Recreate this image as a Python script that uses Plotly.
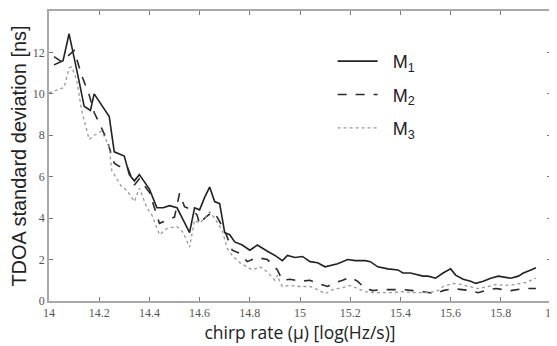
import plotly.graph_objects as go

m1_x = [14.02, 14.04, 14.056, 14.08, 14.10, 14.12, 14.14, 14.165, 14.18, 14.24, 14.26, 14.30, 14.32, 14.34, 14.36, 14.40, 14.43, 14.455, 14.48, 14.51, 14.535, 14.56, 14.58, 14.60, 14.62, 14.64, 14.66, 14.68, 14.70, 14.72, 14.74, 14.77, 14.80, 14.83, 14.87, 14.90, 14.93, 14.95, 14.98, 15.01, 15.04, 15.07, 15.10, 15.13, 15.15, 15.19, 15.22, 15.26, 15.28, 15.31, 15.35, 15.39, 15.41, 15.44, 15.47, 15.49, 15.51, 15.54, 15.57, 15.60, 15.62, 15.65, 15.68, 15.70, 15.73, 15.76, 15.79, 15.81, 15.84, 15.87, 15.89, 15.92, 15.94]
m1_y = [11.4, 11.5, 11.6, 12.9, 11.8, 10.6, 9.4, 9.2, 10.0, 8.9, 7.2, 7.0, 6.1, 5.8, 6.1, 5.4, 4.5, 4.5, 4.6, 4.5, 3.9, 3.3, 4.5, 4.4, 5.0, 5.5, 4.8, 4.7, 3.3, 3.2, 2.85, 2.7, 2.45, 2.7, 2.4, 2.2, 1.95, 2.2, 2.1, 2.15, 1.9, 1.85, 1.65, 1.75, 1.8, 2.0, 1.95, 1.95, 1.9, 1.65, 1.55, 1.5, 1.35, 1.35, 1.25, 1.2, 1.2, 1.1, 1.35, 1.55, 1.25, 1.05, 0.95, 0.85, 0.95, 1.1, 1.2, 1.15, 1.1, 1.2, 1.35, 1.5, 1.6]

m2_x = [14.02, 14.05, 14.10, 14.13, 14.16, 14.18, 14.20, 14.23, 14.26, 14.28, 14.31, 14.34, 14.36, 14.40, 14.44, 14.47, 14.50, 14.52, 14.54, 14.57, 14.59, 14.60, 14.62, 14.65, 14.67, 14.70, 14.73, 14.76, 14.79, 14.83, 14.87, 14.89, 14.91, 14.93, 14.96, 15.00, 15.04, 15.07, 15.11, 15.13, 15.17, 15.20, 15.23, 15.26, 15.29, 15.32, 15.36, 15.41, 15.45, 15.49, 15.54, 15.57, 15.61, 15.64, 15.68, 15.71, 15.75, 15.78, 15.82, 15.84, 15.89, 15.94]
m2_y = [11.8, 11.55, 12.1, 10.9, 9.95, 9.1, 8.6, 7.8, 6.65, 6.5, 6.55, 5.6, 5.9, 5.25, 3.75, 3.9, 4.05, 5.2, 4.55, 4.4, 4.15, 3.7, 4.0, 4.3, 4.05, 3.4, 2.45, 2.3, 1.9, 2.1, 2.0, 1.75, 1.5, 1.0, 1.05, 0.95, 1.0, 0.85, 0.7, 0.85, 1.0, 1.15, 0.95, 0.6, 0.5, 0.55, 0.55, 0.55, 0.5, 0.45, 0.35, 0.5, 0.6, 0.55, 0.5, 0.4, 0.55, 0.6, 0.55, 0.5, 0.6, 0.6]

m3_x = [14.00, 14.06, 14.08, 14.09, 14.11, 14.13, 14.16, 14.18, 14.21, 14.24, 14.25, 14.26, 14.29, 14.31, 14.34, 14.36, 14.39, 14.41, 14.44, 14.47, 14.51, 14.535, 14.56, 14.58, 14.60, 14.62, 14.64, 14.66, 14.69, 14.71, 14.73, 14.76, 14.79, 14.81, 14.84, 14.87, 14.90, 14.91, 14.92, 14.93, 14.96, 15.00, 15.04, 15.07, 15.10, 15.13, 15.17, 15.20, 15.23, 15.26, 15.29, 15.33, 15.37, 15.41, 15.45, 15.51, 15.55, 15.57, 15.61, 15.64, 15.68, 15.71, 15.75, 15.78, 15.82, 15.86, 15.90, 15.94]
m3_y = [10.05, 10.3, 11.25, 11.3, 10.7, 9.2, 7.8, 8.0, 8.2, 7.45, 6.3, 6.1, 5.5, 5.35, 4.8, 5.45, 4.5, 4.15, 3.2, 3.5, 3.6, 3.3, 2.6, 3.9, 3.75, 4.0, 4.3, 4.0, 3.4, 2.55, 2.2, 1.85, 1.65, 1.5, 1.65, 1.4, 1.0, 1.25, 0.9, 0.7, 0.75, 0.7, 0.7, 0.55, 0.35, 0.55, 0.65, 0.75, 0.6, 0.45, 0.4, 0.4, 0.4, 0.45, 0.4, 0.4, 0.5, 0.7, 0.85, 0.8, 0.7, 0.6, 0.7, 0.8, 0.75, 0.8, 0.9, 1.1]

series_names = ["\u00a0\u00a0M<sub>1</sub>", "\u00a0\u00a0M<sub>2</sub>", "\u00a0\u00a0M<sub>3</sub>"]
x_ticks = [14, 14.2, 14.4, 14.6, 14.8, 15, 15.2, 15.4, 15.6, 15.8, 16]
x_tick_labels = ["14", "14.2", "14.4", "14.6", "14.8", "15", "15.2", "15.4", "15.6", "15.8", "16"]
y_ticks = [0, 2, 4, 6, 8, 10, 12, 14]

fig = go.Figure()
fig.add_trace(go.Scatter(x=m1_x, y=m1_y, mode="lines", name=series_names[0], legendgroup="a",
                         line=dict(color="#222222", width=1.6, dash="solid")))
fig.add_trace(go.Scatter(x=m2_x, y=m2_y, mode="lines", name=series_names[1], legendgroup="b",
                         line=dict(color="#2a2a2a", width=1.6, dash="dash")))
fig.add_trace(go.Scatter(x=m3_x, y=m3_y, mode="lines", name=series_names[2], legendgroup="c",
                         line=dict(color="#9a9a9a", width=1.3, dash="dot")))

tick_font = dict(family="Times New Roman, Liberation Serif, serif", size=12, color="#555555")
axis_common = dict(showline=True, linecolor="#a8a8a8", linewidth=1.5, mirror="ticks",
                   ticks="inside", ticklen=4, tickcolor="#777777", showgrid=False,
                   zeroline=False, automargin=False, tickfont=tick_font)

# the page body adds an 8px offset, so margins are shifted to compensate
fig.update_layout(
    template="none",
    width=557, height=346,
    margin=dict(l=41, r=14, t=3, b=53, autoexpand=False),
    paper_bgcolor="white", plot_bgcolor="white",
    showlegend=True,
    legend=dict(x=0.565, y=0.89, xanchor="left", yanchor="top",
                bgcolor="rgba(0,0,0,0)", borderwidth=0,
                font=dict(family="Liberation Sans", size=18, color="#222222"),
                tracegroupgap=7, itemwidth=40),
    xaxis=dict(range=[14, 16], tickvals=x_ticks, ticktext=x_tick_labels,
               title=dict(text="chirp rate (μ) [log(Hz/s)]", standoff=3,
                          font=dict(family="Open Sans", size=17.5, color="#222222")),
               **axis_common),
    yaxis=dict(range=[0, 14], tickvals=y_ticks,
               title=dict(text="TDOA standard deviation [ns]", standoff=4,
                          font=dict(family="Liberation Sans", size=20, color="#222222")),
               **axis_common),
)

fig.write_html("out.html")
